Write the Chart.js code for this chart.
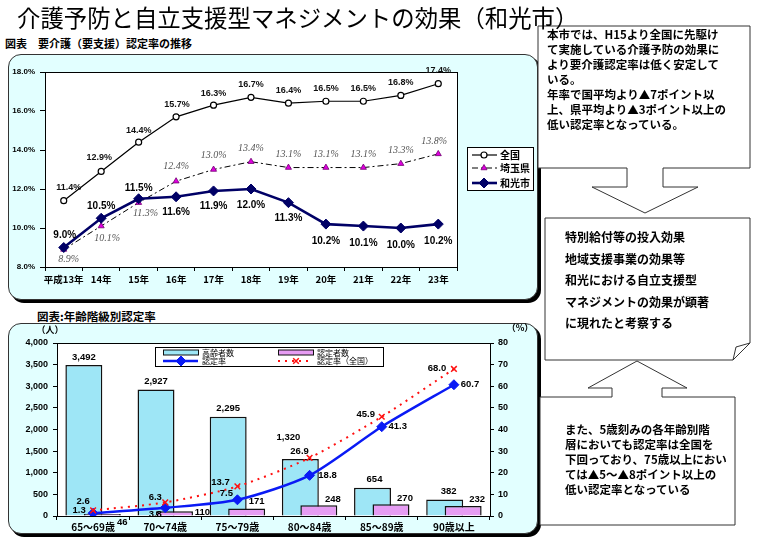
<!DOCTYPE html>
<html><head><meta charset="utf-8">
<script src="https://cdn.jsdelivr.net/npm/chart.js@4/dist/chart.umd.min.js"></script>
<style>
html,body{margin:0;padding:0;}
body{width:760px;height:540px;background:#fff;position:relative;overflow:hidden;font-family:"Noto Sans CJK JP",sans-serif;color:#000;}
.abs{position:absolute;}
.panel{position:absolute;background:#e2ffff;border:1px solid #333;border-radius:13px;box-shadow:3px 3px 0 #000;}
.txt{position:absolute;white-space:pre;font-weight:700;}
</style></head><body>

<div class="txt" style="left:5px;top:36px;font-size:11px;line-height:15px;">図表　要介護（要支援）認定率の推移</div>
<div class="panel" style="left:8px;top:54px;width:528px;height:244px;"></div>
<canvas id="top" class="abs" style="left:8px;top:54px;" width="530" height="246"></canvas>

<div class="txt" style="left:37px;top:308px;font-size:11.5px;line-height:16px;">図表:年齢階級別認定率</div>
<div class="panel" style="left:8px;top:323px;width:528px;height:209px;"></div>
<canvas id="bottom" class="abs" style="left:8px;top:323px;" width="530" height="212"></canvas>

<svg class="abs" style="left:0;top:0;" width="760" height="540">
  <polygon points="538,26 750,26 750,168 663,168 663,187 698,187 645,213 592,187 627,187 627,168 538,168" fill="#fff" stroke="#333" stroke-width="1"/>
  <polygon points="545,218 750,218 750,343 733,360 545,360" fill="#fff" stroke="#333" stroke-width="1"/>
  <polygon points="750,343 733,360 736,347" fill="#fff" stroke="#333" stroke-width="1"/>
  <polygon points="540,397 612,397 612,388 588,388 637,361 687,388 662,388 662,397 735,397 735,525 540,525" fill="#fff" stroke="#333" stroke-width="1"/>
</svg>

<div class="txt" style="left:17px;top:0px;font-size:23.4px;line-height:34px;font-weight:400;z-index:5;">介護予防と自立支援型マネジメントの効果（和光市）</div>

<div class="txt" style="left:547px;top:27px;font-size:11.5px;line-height:15px;">本市では、H15より全国に先駆け
て実施している介護予防の効果に
より要介護認定率は低く安定して
いる。
年率で国平均より▲7ポイント以
上、県平均より▲3ポイント以上の
低い認定率となっている。</div>

<div class="txt" style="left:565px;top:226px;font-size:12px;line-height:21.5px;">特別給付等の投入効果
地域支援事業の効果等
和光における自立支援型
マネジメントの効果が顕著
に現れたと考察する</div>

<div class="txt" style="left:565px;top:422px;font-size:11.5px;line-height:15px;">また、5歳刻みの各年齢別階
層においても認定率は全国を
下回っており、75歳以上におい
ては▲5～▲8ポイント以上の
低い認定率となっている</div>

<script>
// ---------- data ----------
const years = ['平成13年','14年','15年','16年','17年','18年','19年','20年','21年','22年','23年'];
const topSeriesNames = ['全国','埼玉県','和光市'];
const rateNational = [11.4,12.9,14.4,15.7,16.3,16.7,16.4,16.5,16.5,16.8,17.4];
const rateSaitama  = [8.9,10.1,11.3,12.4,13.0,13.4,13.1,13.1,13.1,13.3,13.8];
const rateWako     = [9.0,10.5,11.5,11.6,11.9,12.0,11.3,10.2,10.1,10.0,10.2];
const topTickRange = [8, 18, 2];

const ageGroups = ['65～69歳','70～74歳','75～79歳','80～84歳','85～89歳','90歳以上'];
const bottomSeriesNames = ['高齢者数','認定者数','認定率','認定率（全国）'];
const elderlyCount   = [3492,2927,2295,1320,654,382];
const certifiedCount = [46,110,171,248,270,232];
const certRate       = [1.3,3.8,7.5,18.8,41.3,60.7];
const certRateNation = [2.6,6.3,13.7,26.9,45.9,68.0];
const countTickRange = [0, 4000, 500];
const rateTickRange  = [0, 80, 10];

// ---------- helpers ----------
Chart.defaults.font.family = '"Liberation Sans","Noto Sans CJK JP",sans-serif';
Chart.defaults.color = '#000';
const fmtPct = v => v.toFixed(1) + '%';
const fmtDec = v => v.toFixed(1);
const fmtInt = v => v.toLocaleString('en-US');

function plotFrame(){
  return {
    id:'plotFrame',
    beforeDraw(chart){
      const a = chart.chartArea, c = chart.ctx;
      c.save(); c.fillStyle = '#fff'; c.fillRect(a.left, a.top, a.right-a.left, a.bottom-a.top); c.restore();
    },
    beforeDatasetsDraw(chart){
      const a = chart.chartArea, c = chart.ctx;
      c.save(); c.strokeStyle = '#000'; c.lineWidth = 1;
      c.strokeRect(Math.round(a.left)+0.5, Math.round(a.top)+0.5, Math.round(a.right-a.left), Math.round(a.bottom-a.top));
      c.restore();
    }
  };
}
function pointLabels(specs){
  return {
    id:'pointLabels',
    afterDatasetsDraw(chart){
      const c = chart.ctx;
      specs.forEach(sp => {
        const meta = chart.getDatasetMeta(sp.ds);
        const data = chart.data.datasets[sp.ds].data;
        c.save();
        c.font = sp.font; c.fillStyle = sp.color; c.textAlign = 'center'; c.textBaseline = 'middle';
        meta.data.forEach((el, i) => {
          const o = sp.off[i] || [0,-12];
          c.fillText(sp.fmt(data[i]), el.x + o[0], el.y + o[1]);
        });
        c.restore();
      });
    }
  };
}
function markerAt(c, ds, x, y){
  c.save();
  c.fillStyle = ds.pointBackgroundColor; c.strokeStyle = ds.pointBorderColor; c.lineWidth = ds.pointBorderWidth;
  Chart.helpers.drawPoint(c, {pointStyle: ds.pointStyle, radius: ds.pointRadius, rotation: 0, borderWidth: ds.pointBorderWidth}, x, y);
  c.restore();
}
function lineSample(c, ds, x1, x2, y){
  c.save();
  c.strokeStyle = ds.borderColor; c.lineWidth = ds.borderWidth; c.setLineDash(ds.borderDash || []);
  c.beginPath(); c.moveTo(x1, y); c.lineTo(x2, y); c.stroke();
  c.restore();
}

// ---------- top chart ----------
const topDatasets = [
  {label: topSeriesNames[0], data: rateNational, borderColor:'#000', borderWidth:1.2,
   pointStyle:'circle', pointRadius:3, pointBackgroundColor:'#fff', pointBorderColor:'#000', pointBorderWidth:1.2, order:2},
  {label: topSeriesNames[1], data: rateSaitama, borderColor:'#000', borderWidth:1, borderDash:[6,3,2,3],
   pointStyle:'triangle', pointRadius:3.5, pointBackgroundColor:'#e000e0', pointBorderColor:'#700070', pointBorderWidth:0.8, order:1},
  {label: topSeriesNames[2], data: rateWako, borderColor:'#000066', borderWidth:2.6,
   pointStyle:'rectRot', pointRadius:5, pointBackgroundColor:'#000066', pointBorderColor:'#000066', pointBorderWidth:1, order:0}
];
const topLabelSpecs = [
  {ds:0, fmt:fmtPct, font:'bold 9px "Liberation Sans"', color:'#111',
   off:[[5,-13],[-2,-14],[0,-12],[1,-12],[0,-12],[0,-13],[0,-13],[0,-13],[0,-13],[0,-13],[0,-13]]},
  {ds:1, fmt:fmtPct, font:'italic 10px "Liberation Serif"', color:'#555',
   off:[[5,10],[6,12],[7,11],[0,-15],[0,-14],[0,-13],[0,-13],[0,-13],[0,-13],[0,-13],[-4,-13]]},
  {ds:2, fmt:fmtPct, font:'bold 10px "Liberation Sans"', color:'#000',
   off:[[1,-12],[0,-12],[0,-11],[0,15],[0,15],[0,16],[0,16],[0,17],[0,17],[0,17],[0,17]]}
];
const topLegend = {
  id:'topLegend',
  afterDraw(chart){
    const c = chart.ctx, x0 = 459, y0 = 93, w = 66, h = 43;
    c.save();
    c.fillStyle = '#fff'; c.fillRect(x0, y0, w, h);
    c.strokeStyle = '#000'; c.lineWidth = 1; c.strokeRect(x0+0.5, y0+0.5, w, h);
    const rows = [101, 114, 129];
    chart.data.datasets.forEach((ds, i) => {
      lineSample(c, ds, x0+5, x0+30, rows[i]);
      markerAt(c, ds, x0+17, rows[i]);
      c.fillStyle = '#000'; c.font = 'bold 10px "Noto Sans CJK JP"'; c.textBaseline = 'middle'; c.textAlign = 'left';
      c.fillText(ds.label, x0+33, rows[i]);
    });
    c.restore();
  }
};
new Chart(document.getElementById('top'), {
  type:'line',
  data:{labels: years, datasets: topDatasets},
  options:{
    responsive:false, devicePixelRatio:1, animation:false,
    layout:{padding:{top:18, right:81, left:0, bottom:0}},
    plugins:{legend:{display:false}, tooltip:{enabled:false}},
    elements:{line:{tension:0}},
    scales:{
      x:{offset:true,
         grid:{display:true, drawOnChartArea:false, offset:true, tickLength:4, color:'#000'},
         border:{color:'#000'},
         ticks:{font:{family:'"Noto Sans CJK JP"', size:9.5, weight:'bold'}, color:'#000', maxRotation:0, autoSkip:false, padding:3},
         afterFit(s){ s.height = 33; }},
      y:{min: topTickRange[0], max: topTickRange[1],
         grid:{drawOnChartArea:false, tickLength:5, color:'#000'},
         border:{color:'#000'},
         ticks:{stepSize: topTickRange[2], callback: v => fmtPct(v), font:{size:8, weight:'bold'}, color:'#000', padding:5},
         afterFit(s){ s.width = 37; }}
    }
  },
  plugins:[plotFrame(), pointLabels(topLabelSpecs), topLegend]
});

// ---------- bottom chart ----------
const bottomDatasets = [
  {type:'bar', label: bottomSeriesNames[0], data: elderlyCount, yAxisID:'y', backgroundColor:'#9ee6f6', borderColor:'#111', borderWidth:1.5,
   categoryPercentage:0.512, barPercentage:2.0, order:2},
  {type:'bar', label: bottomSeriesNames[1], data: certifiedCount, yAxisID:'y', backgroundColor:'#e69cf3', borderColor:'#111', borderWidth:1.5,
   categoryPercentage:0.512, barPercentage:2.0, order:2},
  {type:'line', label: bottomSeriesNames[2], data: certRate, yAxisID:'y1', borderColor:'#0a1af5', borderWidth:2.5, tension:0.25,
   pointStyle:'rectRot', pointRadius:5, pointBackgroundColor:'#0a1af5', pointBorderColor:'#0a1af5', pointBorderWidth:1, order:1},
  {type:'line', label: bottomSeriesNames[3], data: certRateNation, yAxisID:'y1', borderColor:'#ff1010', borderWidth:2, borderDash:[2,5], tension:0.25,
   pointStyle:'crossRot', pointRadius:4, pointBackgroundColor:'#ff1010', pointBorderColor:'#ff1010', pointBorderWidth:1.5, order:0}
];
const bottomLabelSpecs = [
  {ds:0, fmt:fmtInt, font:'bold 9.5px "Liberation Sans"', color:'#000',
   off:[[0,-8],[0,-8],[0,-8],[-12,-22],[2,-8],[4,-8]]},
  {ds:1, fmt:fmtInt, font:'bold 9.5px "Liberation Sans"', color:'#000',
   off:[[20,8],[28,1],[10,-7],[14,-6],[14,-6],[14,-7]]},
  {ds:2, fmt:fmtDec, font:'bold 9.5px "Liberation Sans"', color:'#000',
   off:[[-14,-3],[-10,7],[-11,-6],[18,0],[16,0],[16,0]]},
  {ds:3, fmt:fmtDec, font:'bold 9.5px "Liberation Sans"', color:'#000',
   off:[[-10,-9],[-10,-5],[-17,-4],[-10,-6],[-16,-2],[-17,-1]]}
];
// draw the right-hand bar of each pair on top of the left one
const barLayer = {
  id:'barLayer',
  beforeDatasetDraw(chart, args){
    if (args.index === 1 && !chart._drawingLate) return false;
  },
  afterDatasetDraw(chart, args){
    if (args.index === 0){
      chart._drawingLate = true;
      chart.getDatasetMeta(1).controller.draw();
      chart._drawingLate = false;
    }
  }
};
const bottomLegend = {
  id:'bottomLegend',
  afterDraw(chart){
    const c = chart.ctx, x0 = 147, y0 = 24, w = 228, h = 19;
    const ds = chart.data.datasets;
    c.save();
    c.fillStyle = '#fff'; c.fillRect(x0, y0, w, h);
    c.strokeStyle = '#000'; c.lineWidth = 1; c.strokeRect(x0+0.5, y0+0.5, w, h);
    const cols = [x0+8, x0+123];
    const r1 = y0+5.5, r2 = y0+14;
    c.font = '8px "Noto Sans CJK JP"'; c.textBaseline = 'middle'; c.textAlign = 'left';
    [0,1].forEach((k, j) => {
      c.fillStyle = ds[k].backgroundColor; c.fillRect(cols[j], r1-2.5, 35, 5);
      c.strokeStyle = '#111'; c.lineWidth = 1; c.strokeRect(cols[j]+0.5, r1-2.5, 35, 5);
      c.fillStyle = '#000'; c.fillText(ds[k].label, cols[j]+39, r1);
    });
    [2,3].forEach((k, j) => {
      lineSample(c, ds[k], cols[j], cols[j]+35, r2);
      markerAt(c, ds[k], cols[j]+18, r2);
      c.fillStyle = '#000'; c.fillText(ds[k].label, cols[j]+39, r2);
    });
    // axis unit captions
    c.font = 'bold 9px "Noto Sans CJK JP"'; c.textAlign = 'center';
    c.fillText('（人）', 42, 7);
    c.fillText('（%）', 512, 5);
    c.restore();
  }
};
new Chart(document.getElementById('bottom'), {
  data:{labels: ageGroups, datasets: bottomDatasets},
  options:{
    responsive:false, devicePixelRatio:1, animation:false,
    layout:{padding:{top:20, right:0, left:0, bottom:0}},
    plugins:{legend:{display:false}, tooltip:{enabled:false}},
    scales:{
      x:{grid:{display:true, drawOnChartArea:false, offset:true, tickLength:4, color:'#000'},
         border:{color:'#000'},
         ticks:{font:{family:'"Noto Sans CJK JP"', size:10, weight:'bold'}, color:'#000', maxRotation:0, autoSkip:false, padding:1},
         afterFit(s){ s.height = 19; }},
      y:{position:'left', min: countTickRange[0], max: countTickRange[1],
         grid:{drawOnChartArea:false, tickLength:4, color:'#000'},
         border:{color:'#000'},
         ticks:{stepSize: countTickRange[2], callback: v => fmtInt(v), font:{size:9, weight:'bold'}, color:'#000', padding:5},
         afterFit(s){ s.width = 49; }},
      y1:{position:'right', min: rateTickRange[0], max: rateTickRange[1],
         grid:{drawOnChartArea:false, tickLength:4, color:'#000'},
         border:{color:'#000'},
         ticks:{stepSize: rateTickRange[2], font:{size:9, weight:'bold'}, color:'#000', padding:4},
         afterFit(s){ s.width = 48; }}
    }
  },
  plugins:[plotFrame(), barLayer, pointLabels(bottomLabelSpecs), bottomLegend]
});
</script>
</body></html>
